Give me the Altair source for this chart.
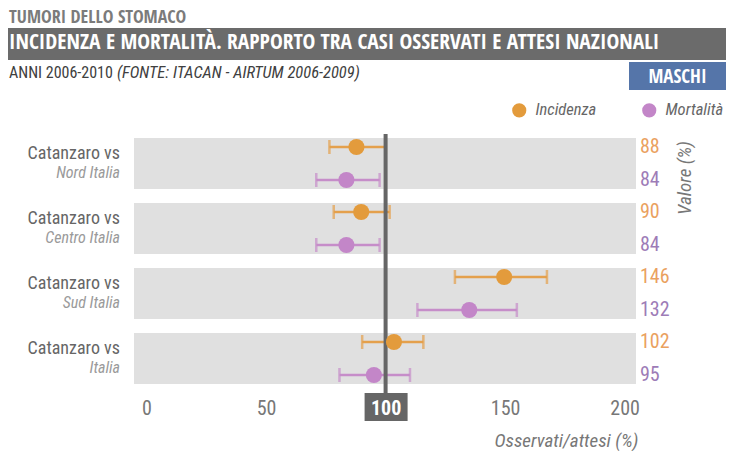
import altair as alt
import pandas as pd

# ---------------- data ----------------
groups = ["Nord Italia", "Centro Italia", "Sud Italia", "Italia"]
series = ["Incidenza", "Mortalità"]
inc_ratio = [87.8, 89.8, 149.6, 103.5]
inc_low = [76.5, 78.3, 129.0, 90.2]
inc_high = [100.1, 101.7, 167.5, 115.8]
inc_label = ["88", "90", "146", "102"]
mort_ratio = [83.6, 83.6, 135.0, 95.1]
mort_low = [71.0, 71.0, 113.3, 80.7]
mort_high = [97.5, 97.5, 154.9, 110.2]
mort_label = ["84", "84", "132", "95"]
x_ticks = [0, 50, 100, 150, 200]
reference = [100]

title_top = "TUMORI DELLO STOMACO"
title_main = "INCIDENZA E MORTALITÀ. RAPPORTO TRA CASI OSSERVATI E ATTESI NAZIONALI"
sub_a = "ANNI 2006-2010"
sub_b = "(FONTE: ITACAN - AIRTUM 2006-2009)"
sex_label = "MASCHI"
prefix = "Catanzaro vs"
right_title = "Valore (%)"
x_title = "Osservati/attesi (%)"

# ---------------- style ----------------
FONT = "Roboto Condensed, DejaVu Sans Condensed, sans-serif"
FONT_B = "Open Sans Condensed, Roboto Condensed, sans-serif"
dot_colors = ["#e39b3c", "#c386c8"]
bar_colors = ["#e4a04c", "#c68dc9"]
label_colors = ["#eaa15f", "#9d7cb7"]
W, H = 502, 260

rows = []
for i, g in enumerate(groups):
    rows.append(dict(group=g, series=series[0], ratio=inc_ratio[i], low=inc_low[i],
                     high=inc_high[i], label=inc_label[i], prefix=prefix))
    rows.append(dict(group=g, series=series[1], ratio=mort_ratio[i], low=mort_low[i],
                     high=mort_high[i], label=mort_label[i], prefix=prefix))
df = pd.DataFrame(rows)
gdf = pd.DataFrame({"group": groups, "prefix": [prefix] * len(groups)})
refdf = pd.DataFrame({"ref": reference})
one = pd.DataFrame({"k": [0]})

xscale = alt.Scale(domain=[-5.25, 204.75], nice=False, zero=False)
yscale = alt.Scale(domain=groups, paddingInner=0.2154, paddingOuter=0.1077)
yoscale = alt.Scale(domain=series, paddingInner=0.4545, paddingOuter=0)

xaxis = alt.Axis(
    values=x_ticks, domain=False, ticks=False, grid=False,
    labelFont=FONT, labelFontSize=20, labelPadding=7,
    labelColor={"condition": {"test": "datum.value === 100", "value": "white"}, "value": "#777777"},
    labelFontWeight={"condition": {"test": "datum.value === 100", "value": "bold"}, "value": "normal"},
    title=x_title, titleFont=FONT, titleFontSize=19, titleFontStyle="italic",
    titleFontWeight="normal", titleColor="#777777", titleAnchor="end", titleAlign="right",
    titleX=504, titleY=49, titleBaseline="middle", zindex=1,
)

Y = alt.Y("group:N", scale=yscale, axis=None)
YO = alt.YOffset("series:N", scale=yoscale)
bar_color = alt.condition(alt.datum.series == series[0], alt.value(bar_colors[0]), alt.value(bar_colors[1]))
lab_color = alt.condition(alt.datum.series == series[0], alt.value(label_colors[0]), alt.value(label_colors[1]))

bands = alt.Chart(gdf).mark_rect(color="#e0e0e0").encode(y=Y)

err = alt.Chart(df).mark_rule(strokeWidth=2.5).encode(
    x=alt.X("low:Q", scale=xscale, axis=xaxis), x2="high:Q", y=Y, yOffset=YO, color=bar_color)
cap_lo = alt.Chart(df).mark_tick(thickness=2.5, size=14).encode(
    x=alt.X("low:Q", scale=xscale, axis=xaxis), y=Y, yOffset=YO, color=bar_color)
cap_hi = alt.Chart(df).mark_tick(thickness=2.5, size=14).encode(
    x=alt.X("high:Q", scale=xscale, axis=xaxis), y=Y, yOffset=YO, color=bar_color)

ref_line = alt.Chart(refdf).mark_rule(color="#666666", strokeWidth=4).encode(
    x=alt.X("ref:Q", scale=xscale, axis=xaxis), y=alt.value(3), y2=alt.value(262))
ref_box = alt.Chart(refdf).mark_rect(color="#666666", xOffset=-21, x2Offset=22).encode(
    x=alt.X("ref:Q", scale=xscale, axis=xaxis), x2="ref:Q", y=alt.value(262), y2=alt.value(290))

dots = alt.Chart(df).mark_point(filled=True, size=260, opacity=1, shape="circle").encode(
    x=alt.X("ratio:Q", scale=xscale, axis=xaxis), y=Y, yOffset=YO,
    color=alt.Color("series:N", scale=alt.Scale(domain=series, range=dot_colors),
                    legend=alt.Legend(
                        title=None, orient="none", direction="horizontal",
                        legendX=377, legendY=-29, symbolType="circle", symbolSize=200,
                        symbolOpacity=1, labelFont=FONT, labelFontSize=16.5,
                        labelFontStyle="italic", labelColor="#666666", labelOffset=8,
                        columnPadding=44, padding=0)))

val_labels = alt.Chart(df).mark_text(font=FONT, fontSize=20, align="left", baseline="middle").encode(
    x=alt.value(W + 4), y=Y, yOffset=YO, text="label:N", color=lab_color)

left1 = alt.Chart(gdf).mark_text(font=FONT, fontSize=18, align="right", baseline="middle",
                                 dy=-9.5, color="#666666").encode(
    x=alt.value(-14), y=Y, text="prefix:N")
left2 = alt.Chart(gdf).mark_text(font=FONT, fontSize=16, align="right", baseline="middle",
                                 dy=9, color="#9a9a9a", fontStyle="italic").encode(
    x=alt.value(-14), y=Y, text="group:N")

valore = alt.Chart(one).mark_text(text=right_title, font=FONT, fontSize=19, fontStyle="italic",
                                  angle=270, align="center", baseline="middle", color="#777777").encode(
    x=alt.value(551), y=alt.value(47))

# header
t_top = alt.Chart(one).mark_text(text=title_top, font=FONT_B, fontSize=18, fontWeight="bold",
                                 align="left", baseline="middle", color="#7b7b7b").encode(
    x=alt.value(-125), y=alt.value(-113))
band_hdr = alt.Chart(one).mark_rect(color="#6b6b6b").encode(
    x=alt.value(-134), x2=alt.value(592), y=alt.value(-103), y2=alt.value(-71))
t_main = alt.Chart(one).mark_text(text=title_main, font=FONT_B, fontSize=21.5, fontWeight="bold",
                                  align="left", baseline="middle", color="white").encode(
    x=alt.value(-125), y=alt.value(-88))
t_sub_a = alt.Chart(one).mark_text(text=sub_a, font=FONT, fontSize=16, align="left",
                                   baseline="middle", color="#404040").encode(
    x=alt.value(-125), y=alt.value(-58.5))
t_sub_b = alt.Chart(one).mark_text(text=sub_b, font=FONT, fontSize=16.5, fontStyle="italic",
                                   align="left", baseline="middle", color="#404040").encode(
    x=alt.value(-17), y=alt.value(-58.5))
sex_box = alt.Chart(one).mark_rect(color="#5575a9").encode(
    x=alt.value(495), x2=alt.value(592), y=alt.value(-69), y2=alt.value(-41))
sex_txt = alt.Chart(one).mark_text(text=sex_label, font=FONT_B, fontSize=19, fontWeight="bold",
                                   align="center", baseline="middle", color="white").encode(
    x=alt.value(543.5), y=alt.value(-54))

chart = alt.layer(
    bands, err, cap_lo, cap_hi, ref_line, ref_box, dots, val_labels, left1, left2, valore,
    t_top, band_hdr, t_main, t_sub_a, t_sub_b, sex_box, sex_txt,
).properties(
    width=W, height=H,
    padding={"left": 126, "top": 123, "right": 91, "bottom": 60},
    autosize=alt.AutoSizeParams(type="none"),
    background="white",
).configure_view(stroke=None)

chart.save("out.html", embed_options={"renderer": "svg", "actions": False})
